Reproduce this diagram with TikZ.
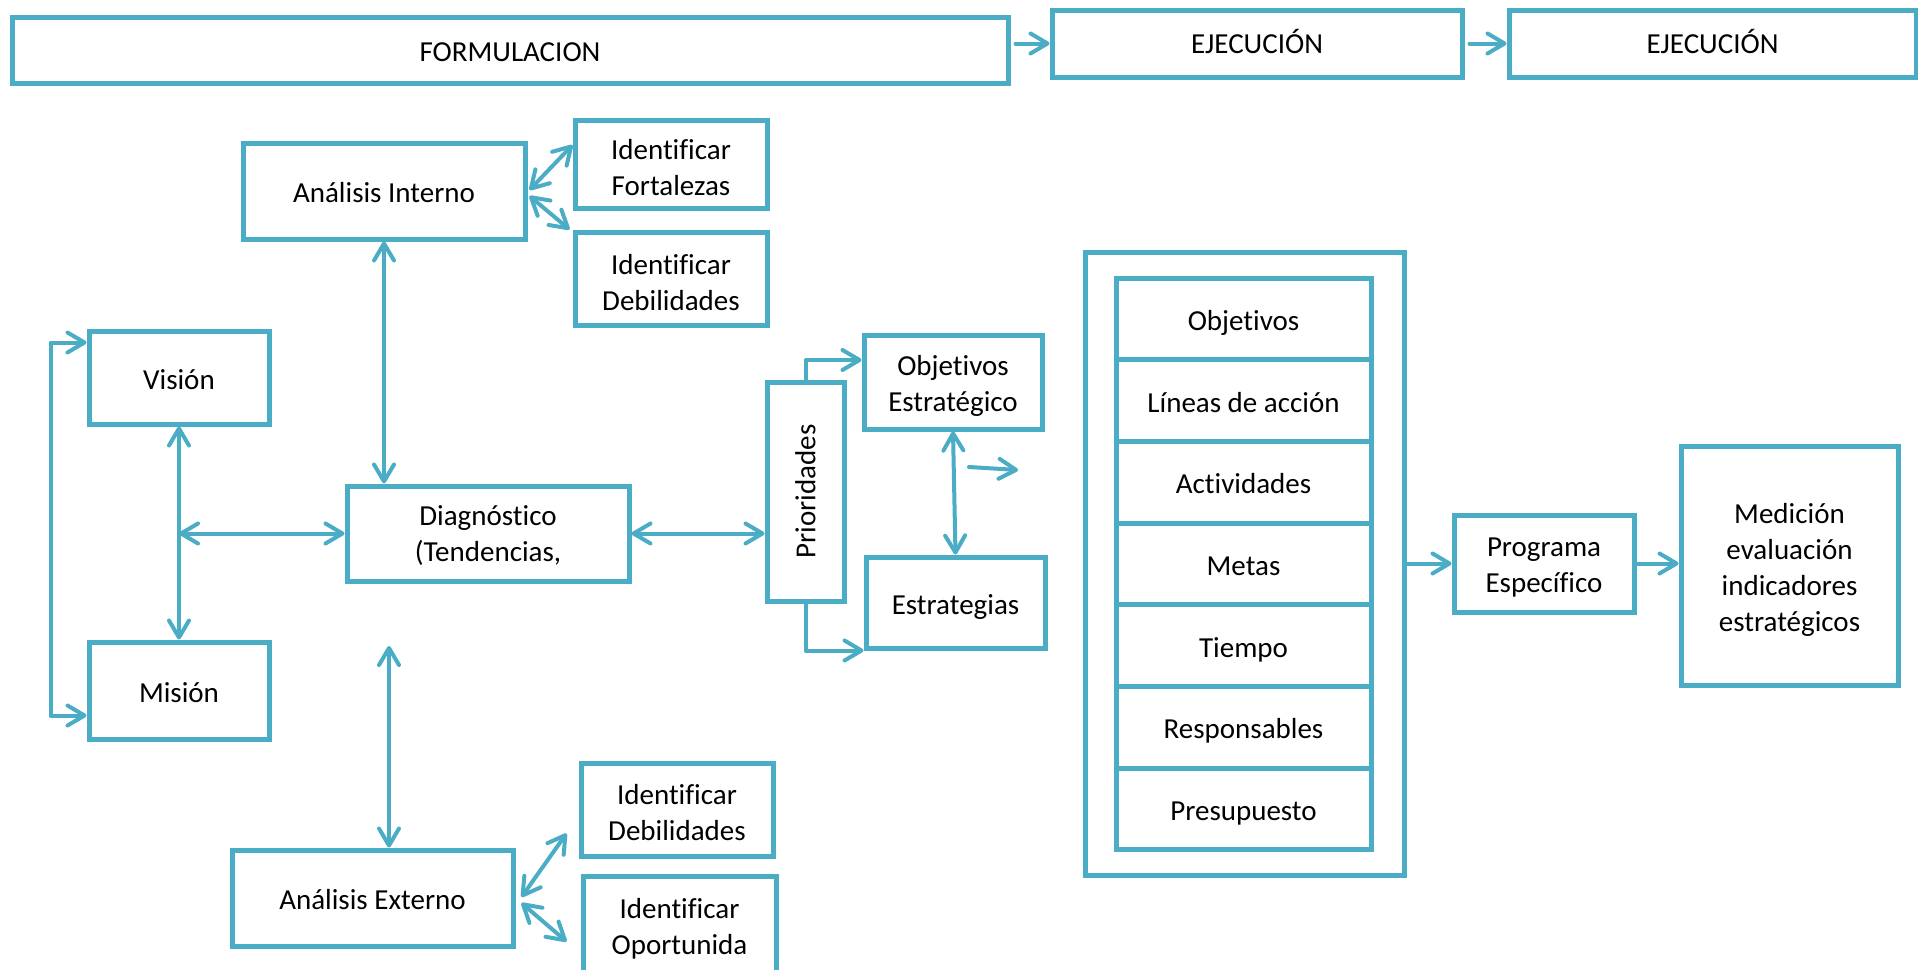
\documentclass[tikz,border=0pt]{standalone}
\usepackage{fontspec}
\setmainfont{Carlito}[Ligatures={TeX,NoCommon}]
\usetikzlibrary{arrows.meta,calc}
\definecolor{accent}{RGB}{75,172,198}
\begin{document}
\begin{tikzpicture}[x=1pt,y=-1pt,
  box/.style={draw=accent,line width=5pt,fill=white,inner sep=0pt,align=center,
    font=\fontsize{29}{36}\selectfont,text height=29pt,text depth=6pt},
  two/.style={text height=65pt,text depth=6pt},
  four/.style={text height=137pt,text depth=6pt},
  conn/.style={draw=accent,line width=4pt,line cap=round,line join=round},
  >={Straight Barb[length=17pt,width=20pt,round]}]
\useasboundingbox (0,0) rectangle (1918,969);
% top row
\node[box,minimum width=996,minimum height=66,text height=28pt] (FORM) at (510,50) {FORMULACION};
\node[box,minimum width=410,minimum height=67,text height=26pt] (EJE1) at (1257,43.5) {EJECUCIÓN};
\node[box,minimum width=407,minimum height=67,text height=26pt] (EJE2) at (1712.5,43.5) {EJECUCIÓN};
% left part
\node[box,minimum width=282,minimum height=96] (AI) at (384,191) {Análisis Interno};
\node[box,two,text height=69pt,minimum width=192,minimum height=88] (IF) at (671,164) {Identificar\\Fortalezas};
\node[box,two,text height=69pt,minimum width=192,minimum height=93] (ID1) at (671,278.5) {Identificar\\Debilidades};
\node[box,minimum width=180,minimum height=93] (Vis) at (179,377.5) {Visión};
\node[box,minimum width=180,minimum height=97] (Mis) at (179,690.5) {Misión};
\node[box,two,text height=62pt,minimum width=282,minimum height=95] (Diag) at (488,533.5) {Diagnóstico\\(Tendencias,};
\node[box,minimum width=77,minimum height=219,
      label={[rotate=90,font=\fontsize{29}{36}\selectfont]center:Prioridades}] (Prio) at (805.5,491.5) {};
\node[box,two,minimum width=178,minimum height=94] (ObjE) at (953,382) {Objetivos\\Estratégico};
\node[box,minimum width=179,minimum height=91] (Estr) at (955.5,602.5) {Estrategias};
\node[box,minimum width=281,minimum height=96] (AE) at (372.5,898) {Análisis Externo};
\node[box,two,text height=67pt,minimum width=192,minimum height=93] (ID2) at (677,809.5) {Identificar\\Debilidades};
\node[box,two,text height=64pt,minimum width=193,minimum height=99] (Opo) at (679.5,925.5) {Identificar\\Oportunida};
% list
\node[box,minimum width=319,minimum height=623] (Outer) at (1244.5,563.5) {};
\foreach \i/\t in {1/Objetivos,2/Líneas de acción,3/Actividades,4/Metas,5/Tiempo,6/Responsables,7/Presupuesto}{
  \node[box,minimum width=255,minimum height=81.7] (L\i) at (1243.5,{278+81.7*(\i-0.5)}) {\t};
}
\node[box,two,text height=63pt,minimum width=180,minimum height=97] (Prog) at (1544,563.5) {Programa\\Específico};
\node[box,four,minimum width=217,minimum height=239] (Med) at (1789.5,565.5) {Medición\\evaluación\\indicadores\\estratégicos};
% free coordinates
\coordinate (fa) at (969,467);
\coordinate (fb) at (1018,470);
\coordinate (ext) at (389,646);
% connectors
\draw[conn,->,shorten <=5pt] (FORM.east |- EJE1.west) -- (EJE1.west);
\draw[conn,->,shorten <=5pt] (EJE1.east) -- (EJE2.west);
\draw[conn,<->] ($(AI.east)+(2,-1)$) -- ($(IF.west)+(0,-19)$);
\draw[conn,<->] ($(AI.east)+(2,5)$) -- ($(ID1.north west)+(-3,0)$);
\draw[conn,<->] (AI.south) -- (AI.south |- Diag.north);
\draw[conn,<->] (Vis.south) -- (Mis.north);
\draw[conn,<->] (Vis.south |- Diag.west) -- (Diag.west);
\draw[conn,<->] ($(Vis.north west)+(0,14)$) -- ++(-36,0) |- ($(Mis.south west)+(0,-26)$);
\draw[conn,<->] (Diag.east) -- (Diag.east -| Prio.west);
\draw[conn,->] (Prio.north) |- ($(ObjE.west)+(0,-22)$);
\draw[conn,->] (Prio.south) |- (Estr.south west);
\draw[conn,<->] (ObjE.south) -- (Estr.north);
\draw[conn,->] (fa) -- (fb);
\draw[conn,<->] (ext) -- (ext |- AE.north);
\draw[conn,<->] ($(AE.east)+(6,-1)$) -- ($(ID2.west)+(-12,24)$);
\draw[conn,<->] ($(AE.east)+(6,5)$) -- ($(Opo.west)+(-14,16)$);
\draw[conn,->] (Outer.east) -- (Prog.west);
\draw[conn,->] (Prog.east) -- (Prog.east -| Med.west);
\end{tikzpicture}
\end{document}
